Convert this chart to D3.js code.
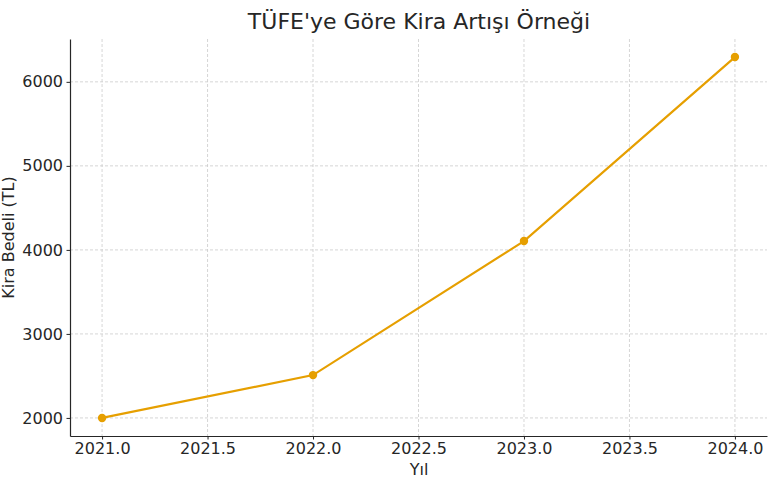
<!DOCTYPE html>
<html><head><meta charset="utf-8">
<script src="https://cdn.jsdelivr.net/npm/d3@7"></script>
<style>body{margin:0;background:#fff}svg{display:block}text{font-family:"DejaVu Sans",sans-serif;fill:#262626}</style>
</head><body><svg id="c" width="768" height="489"></svg>
<script>
const years = [2021, 2022, 2023, 2024];
const rents = [2000, 2510, 4105, 6295];
const xTicks = [2021.0, 2021.5, 2022.0, 2022.5, 2023.0, 2023.5, 2024.0];
const yTicks = [2000, 3000, 4000, 5000, 6000];

const svg = d3.select("#c");
const L = 70, R = 767, T = 39, B = 436;
const x = d3.scaleLinear().domain([2020.848, 2024.152]).range([L, R]);
const y = d3.scaleLinear().domain([1785, 6510]).range([B, T]);

const g = svg.append("g");
// grid
g.selectAll(".gx").data(xTicks).enter().append("line")
  .attr("x1", d => x(d)).attr("x2", d => x(d)).attr("y1", T).attr("y2", B)
  .attr("stroke", "#cccccc").attr("stroke-width", 0.8).attr("stroke-dasharray", "3,2");
g.selectAll(".gy").data(yTicks).enter().append("line")
  .attr("y1", d => y(d)).attr("y2", d => y(d)).attr("x1", L).attr("x2", R)
  .attr("stroke", "#cccccc").attr("stroke-width", 0.8).attr("stroke-dasharray", "3,2");

// axes
const xa = svg.append("g").attr("transform", `translate(0,${B})`)
  .call(d3.axisBottom(x).tickValues(xTicks).tickFormat(d3.format(".1f")).tickSize(3.5).tickPadding(3.5).tickSizeOuter(0));
const ya = svg.append("g").attr("transform", `translate(${L},0)`)
  .call(d3.axisLeft(y).tickValues(yTicks).tickFormat(d3.format("d")).tickSize(3.5).tickPadding(3.5).tickSizeOuter(0));
[xa, ya].forEach(a => {
  a.selectAll("text").style("font-size", "16px").style("fill", "#262626");
  a.selectAll(".tick line").attr("stroke", "#262626").attr("stroke-width", 1);
  a.select(".domain").attr("stroke", "#262626").attr("stroke-width", 1.2);
});

// line
const line = d3.line().x((d, i) => x(years[i])).y(d => y(d));
svg.append("path").datum(rents).attr("d", line)
  .attr("fill", "none").attr("stroke", "#E69F00").attr("stroke-width", 2.2);
svg.selectAll(".pt").data(rents).enter().append("circle")
  .attr("cx", (d, i) => x(years[i])).attr("cy", d => y(d)).attr("r", 4.2)
  .attr("fill", "#E69F00");

// labels
svg.append("text").attr("x", 419).attr("y", 29).attr("text-anchor", "middle")
  .style("font-size", "22px").text("TÜFE'ye Göre Kira Artışı Örneği");
svg.append("text").attr("x", 419).attr("y", 475).attr("text-anchor", "middle")
  .style("font-size", "16px").text("Yıl");
svg.append("text").attr("transform", `translate(14,${(T+B)/2}) rotate(-90)`).attr("text-anchor", "middle")
  .style("font-size", "16px").text("Kira Bedeli (TL)");
</script></body></html>
